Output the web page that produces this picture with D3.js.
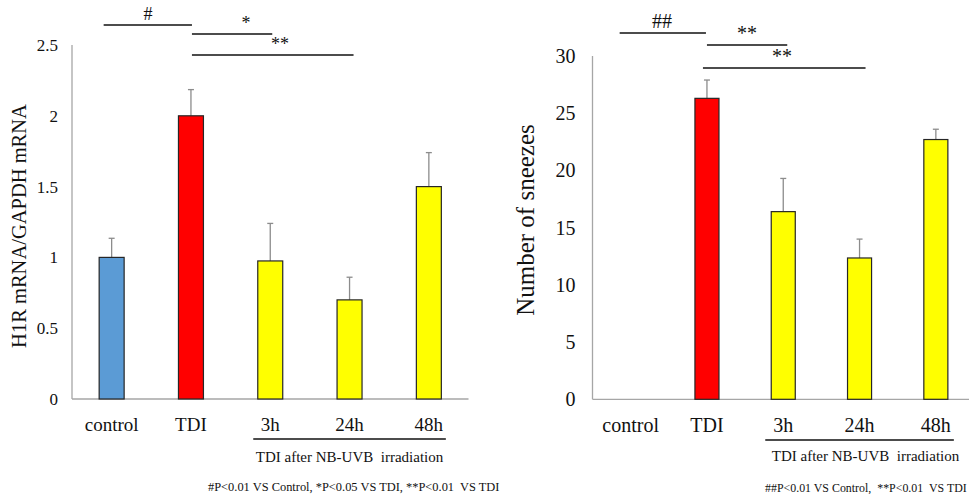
<!DOCTYPE html>
<html>
<head>
<meta charset="utf-8">
<script src="https://cdn.jsdelivr.net/npm/d3@7"></script>
<style>
  body { margin: 0; background: #fff; }
  svg { font-family: "Liberation Serif", "Times New Roman", serif; }
  .axis .domain { stroke: #a6a6a6; stroke-width: 1.3; }
  .axis line { display: none; }
</style>
</head>
<body>
<script>
// categories and values
var categories = ["control", "TDI", "3h", "24h", "48h"];
var mrnaValues = [1.0, 2.0, 0.975, 0.70, 1.50];
var mrnaErrors = [0.135, 0.185, 0.265, 0.16, 0.24];
var mrnaTicks = [0, 0.5, 1, 1.5, 2, 2.5];
var sneezeValues = [0, 26.3, 16.4, 12.35, 22.7];
var sneezeErrors = [0, 1.6, 2.9, 1.65, 0.9];
var sneezeTicks = [0, 5, 10, 15, 20, 25, 30];
var barColors = ["#5b9bd5", "#ff0000", "#ffff00", "#ffff00", "#ffff00"];

var svg = d3.select("body").append("svg")
    .attr("width", 969)
    .attr("height", 494);

function drawPanel(p) {
  var x = d3.scaleBand()
      .domain(categories)
      .range(p.xRange)
      .paddingInner(0.685)
      .paddingOuter(0.3425);
  var y = d3.scaleLinear()
      .domain([0, d3.max(p.ticks)])
      .range(p.yRange);

  var g = svg.append("g");

  // y axis
  var ya = g.append("g")
      .attr("class", "axis")
      .attr("transform", "translate(" + p.xRange[0] + ",0)")
      .call(d3.axisLeft(y).tickValues(p.ticks).tickSize(0).tickPadding(p.tickPad)
            .tickFormat(function(d) { return d; }));
  ya.attr("font-family", null);
  ya.select(".domain").attr("d", "M0," + p.yRange[0] + "V" + p.yRange[1]);
  ya.selectAll("text")
      .style("font-size", p.tickFont + "px")
      .attr("fill", "#111");

  // x axis
  var xa = g.append("g")
      .attr("class", "axis")
      .attr("transform", "translate(0," + p.yRange[0] + ")")
      .call(d3.axisBottom(x).tickSize(0).tickPadding(p.xPad));
  xa.attr("font-family", null);
  xa.select(".domain").attr("d", "M" + p.xRange[0] + ",0H" + Math.min(p.xRange[1], 969));
  xa.selectAll("text")
      .style("font-size", p.catFont + "px")
      .attr("fill", "#111");

  var data = categories.map(function(c, i) {
    return {cat: c, v: p.values[i], e: p.errors[i], color: barColors[i]};
  }).filter(function(d) { return d.v > 0; });

  // error bars
  var eb = g.selectAll(".err").data(data).enter().append("g").attr("class", "err");
  eb.append("line")
      .attr("x1", function(d) { return x(d.cat) + x.bandwidth() / 2; })
      .attr("x2", function(d) { return x(d.cat) + x.bandwidth() / 2; })
      .attr("y1", function(d) { return y(d.v); })
      .attr("y2", function(d) { return y(d.v + d.e); })
      .attr("stroke", "#8c8c8c").attr("stroke-width", 1.3);
  eb.append("line")
      .attr("x1", function(d) { return x(d.cat) + x.bandwidth() / 2 - 3; })
      .attr("x2", function(d) { return x(d.cat) + x.bandwidth() / 2 + 3; })
      .attr("y1", function(d) { return y(d.v + d.e); })
      .attr("y2", function(d) { return y(d.v + d.e); })
      .attr("stroke", "#8c8c8c").attr("stroke-width", 1.3);

  // bars
  g.selectAll(".bar").data(data).enter().append("rect")
      .attr("class", "bar")
      .attr("x", function(d) { return x(d.cat); })
      .attr("width", x.bandwidth())
      .attr("y", function(d) { return y(d.v); })
      .attr("height", function(d) { return y(0) - y(d.v); })
      .attr("fill", function(d) { return d.color; })
      .attr("stroke", "#262626")
      .attr("stroke-width", 1.2);

  // y title
  g.append("text")
      .attr("transform", "translate(" + p.titleX + "," + p.titleY + ") rotate(-90)")
      .attr("text-anchor", "middle")
      .style("font-size", p.titleFont + "px")
      .attr("fill", "#111")
      .text(p.title);

  // group bracket under 3h-48h
  var cx = function(c) { return x(c) + x.bandwidth() / 2; };
  g.append("line")
      .attr("x1", cx("3h") - p.groupExt).attr("x2", cx("48h") + p.groupExt)
      .attr("y1", p.groupY).attr("y2", p.groupY)
      .attr("stroke", "#111").attr("stroke-width", 1.5);
  g.append("text")
      .attr("x", cx("24h") + p.groupTextDx).attr("y", p.groupTextY)
      .attr("text-anchor", "middle")
      .style("font-size", "15px")
      .attr("fill", "#111")
      .text("TDI after NB-UVB\u00a0 irradiation");

  // significance markers
  p.sig.forEach(function(s) {
    g.append("line")
        .attr("x1", cx(s.from) + s.dx1).attr("x2", cx(s.to) + s.dx2)
        .attr("y1", s.y).attr("y2", s.y)
        .attr("stroke", "#111").attr("stroke-width", 1.5);
    g.append("text")
        .attr("x", s.tx).attr("y", s.y - 5)
        .attr("text-anchor", "middle")
        .style("font-size", p.sigFont + "px")
        .attr("fill", "#111")
        .text(s.label);
  });

  // footnote, sized to the width it has in the figure
  var note = g.append("text")
      .attr("x", p.noteX).attr("y", p.noteY)
      .style("font-size", "11px")
      .attr("fill", "#111")
      .text(p.note);
  var len = note.node().getComputedTextLength();
  note.style("font-size", (11 * p.noteW / len) + "px");
}

drawPanel({
  xRange: [72, 468.5], yRange: [399, 45],
  values: mrnaValues, errors: mrnaErrors, ticks: mrnaTicks,
  tickPad: 14, tickFont: 17, xPad: 19, catFont: 19,
  title: "H1R mRNA/GAPDH mRNA", titleX: 26, titleY: 226, titleFont: 20.5,
  groupY: 439, groupExt: 17, groupTextDx: 0, groupTextY: 462,
  sigFont: 18,
  sig: [
    {from: "control", to: "TDI", dx1: -8, dx2: 1, y: 25, label: "#", tx: 148},
    {from: "TDI", to: "3h", dx1: 1, dx2: 2, y: 34, label: "*", tx: 246},
    {from: "TDI", to: "24h", dx1: 1, dx2: 4, y: 55, label: "**", tx: 280}
  ],
  note: "#P<0.01 VS Control, *P<0.05 VS TDI, **P<0.01\u00a0 VS TDI", noteX: 208, noteY: 491, noteW: 292
});

drawPanel({
  xRange: [592.5, 974], yRange: [399.3, 56],
  values: sneezeValues, errors: sneezeErrors, ticks: sneezeTicks,
  tickPad: 17, tickFont: 20, xPad: 19, catFont: 20,
  title: "Number of sneezes", titleX: 534, titleY: 220, titleFont: 25,
  groupY: 440, groupExt: 18, groupTextDx: 6, groupTextY: 461,
  sigFont: 20,
  sig: [
    {from: "control", to: "TDI", dx1: -11, dx2: -1, y: 33, label: "##", tx: 662},
    {from: "TDI", to: "3h", dx1: 0, dx2: 4, y: 45, label: "**", tx: 747},
    {from: "TDI", to: "24h", dx1: -4, dx2: 6, y: 68, label: "**", tx: 782}
  ],
  note: "##P<0.01 VS Control,\u00a0 **P<0.01\u00a0 VS TDI", noteX: 765, noteY: 492, noteW: 202
});
</script>
</body>
</html>
